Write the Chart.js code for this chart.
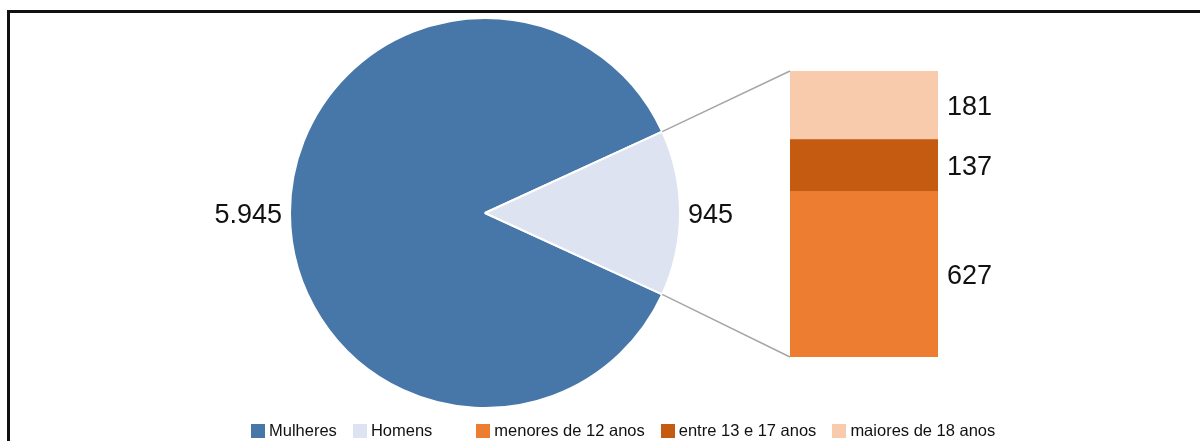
<!DOCTYPE html>
<html>
<head>
<meta charset="utf-8">
<script src="https://cdn.jsdelivr.net/npm/chart.js@4.4.1/dist/chart.umd.min.js"></script>
<style>
  html, body { margin: 0; padding: 0; background: #fff; }
  body { width: 1200px; height: 441px; position: relative; overflow: hidden; font-family: "Liberation Sans", Arial, sans-serif; }
  #frame { position: absolute; left: 7px; top: 10px; right: 0; bottom: 0; border-top: 3px solid #111; border-left: 3px solid #111; }
  #pieCanvas { position: absolute; left: 0; top: 0; }
  #barCanvas { position: absolute; left: 780px; top: 60px; }
  #legend { position: absolute; left: 251px; top: 421px; display: flex; align-items: center; font-size: 16.5px; color: #111; white-space: nowrap; }
  #legend .item { display: flex; align-items: center; margin-right: 16px; }
  #legend .item.group { margin-left: 28px; }
  #legend .box { width: 14px; height: 14px; margin-right: 4px; }
</style>
</head>
<body>
<div id="frame"></div>
<canvas id="pieCanvas" width="1200" height="441"></canvas>
<canvas id="barCanvas" width="300" height="310"></canvas>
<div id="legend"></div>
<script>
// pie: sexo
const genderLabels = ['Mulheres', 'Homens'];
const genderValues = [5945, 945];
const genderColors = ['#4677a8', '#dde3f0'];

// barra: idade dos homens (de baixo para cima)
const ageLabels = ['menores de 12 anos', 'entre 13 e 17 anos', 'maiores de 18 anos'];
const ageValues = [627, 137, 181];
const ageColors = ['#ed7d31', '#c55a11', '#f8cbad'];
const barAxisMin = 190; // the bar axis in the original does not start at 0

const labelFont = '27px "Liberation Sans", Arial, sans-serif';
const fmt = v => String(v).replace(/\B(?=(\d{3})+(?!\d))/g, '.');
const sum = arr => arr.reduce((a, b) => a + b, 0);

const barLabels = {
  id: 'barLabels',
  afterDatasetsDraw(chart) {
    const ctx = chart.ctx;
    const area = chart.chartArea;
    ctx.save();
    ctx.font = labelFont;
    ctx.fillStyle = '#111';
    ctx.textAlign = 'left';
    ctx.textBaseline = 'middle';
    chart.data.datasets.forEach((ds, i) => {
      const el = chart.getDatasetMeta(i).data[0];
      const top = Math.max(el.y, area.top);
      const bottom = Math.min(el.base, area.bottom);
      ctx.fillText(fmt(ds.data[0]), el.x + el.width / 2 + 9, (top + bottom) / 2 + 2);
    });
    ctx.restore();
  }
};

const barCanvas = document.getElementById('barCanvas');
const barChart = new Chart(barCanvas, {
  type: 'bar',
  data: {
    labels: ['Homens'],
    datasets: ageLabels.map((label, i) => ({
      label: label,
      data: [ageValues[i]],
      backgroundColor: ageColors[i],
      borderWidth: 0,
      barPercentage: 1,
      categoryPercentage: 1,
      clip: 0
    }))
  },
  options: {
    responsive: false,
    animation: false,
    layout: { padding: { left: 10, top: 11, right: 142, bottom: 13 } },
    scales: {
      x: { stacked: true, display: false },
      y: { stacked: true, display: false, min: barAxisMin, max: sum(ageValues) }
    },
    plugins: { legend: { display: false }, tooltip: { enabled: false } }
  },
  plugins: [barLabels]
});

const pieExtras = {
  id: 'pieExtras',
  afterDatasetsDraw(chart) {
    const ctx = chart.ctx;
    const arcs = chart.getDatasetMeta(0).data;
    const props = ['x', 'y', 'startAngle', 'endAngle', 'outerRadius'];
    ctx.save();
    ctx.font = labelFont;
    ctx.fillStyle = '#111';
    ctx.textBaseline = 'middle';
    arcs.forEach((arc, i) => {
      const a = arc.getProps(props, true);
      const mid = (a.startAngle + a.endAngle) / 2;
      const r = a.outerRadius + 8;
      ctx.textAlign = Math.cos(mid) < 0 ? 'right' : 'left';
      ctx.fillText(fmt(genderValues[i]), a.x + Math.cos(mid) * r, a.y + Math.sin(mid) * r + 3);
    });

    // linhas ligando a fatia "Homens" à barra
    const h = arcs[1].getProps(props, true);
    const topEl = barChart.getDatasetMeta(ageValues.length - 1).data[0];
    const ox = barCanvas.offsetLeft, oy = barCanvas.offsetTop;
    const barLeft = ox + topEl.x - topEl.width / 2;
    const barTop = oy + Math.max(topEl.y, barChart.chartArea.top);
    const barBottom = oy + barChart.chartArea.bottom;
    ctx.strokeStyle = '#a6a6a6';
    ctx.lineWidth = 1.5;
    ctx.beginPath();
    ctx.moveTo(h.x + Math.cos(h.startAngle) * h.outerRadius, h.y + Math.sin(h.startAngle) * h.outerRadius);
    ctx.lineTo(barLeft, barTop);
    ctx.moveTo(h.x + Math.cos(h.endAngle) * h.outerRadius, h.y + Math.sin(h.endAngle) * h.outerRadius);
    ctx.lineTo(barLeft, barBottom);
    ctx.stroke();
    ctx.restore();
  }
};

new Chart(document.getElementById('pieCanvas'), {
  type: 'pie',
  data: {
    labels: genderLabels,
    datasets: [{
      data: genderValues,
      backgroundColor: genderColors,
      borderColor: '#fff',
      borderWidth: 2,
      radius: 195
    }]
  },
  options: {
    responsive: false,
    animation: false,
    rotation: -90 - 180 * genderValues[0] / sum(genderValues), // centre "Homens" on the right
    layout: { padding: { left: 0, right: 230, top: 0, bottom: 15 } },
    plugins: { legend: { display: false }, tooltip: { enabled: false } }
  },
  plugins: [pieExtras]
});

// legenda
const legend = document.getElementById('legend');
const legendItems = genderLabels.map((l, i) => ({ text: l, color: genderColors[i] }))
  .concat(ageLabels.map((l, i) => ({ text: l, color: ageColors[i], group: i === 0 })));
legendItems.forEach(it => {
  const div = document.createElement('div');
  div.className = 'item' + (it.group ? ' group' : '');
  div.innerHTML = '<span class="box" style="background:' + it.color + '"></span><span>' + it.text + '</span>';
  legend.appendChild(div);
});
</script>
</body>
</html>
